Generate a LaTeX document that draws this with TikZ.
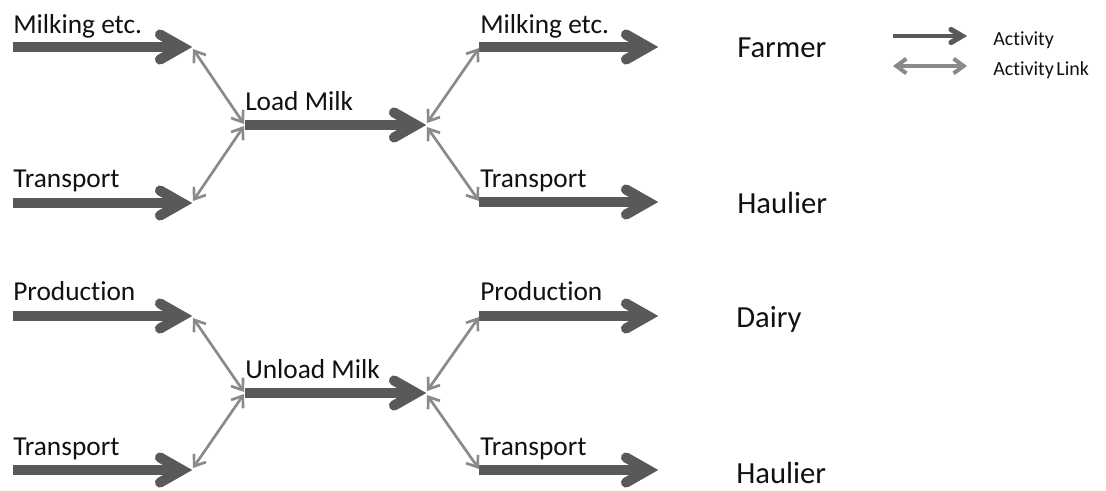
\documentclass[tikz,border=0pt]{standalone}
\usepackage{fontspec}
\setmainfont[Ligatures={NoCommon}]{Carlito}
\usetikzlibrary{arrows.meta,calc}
\definecolor{actgray}{HTML}{595959}
\definecolor{linkgray}{HTML}{8A8A8A}
\definecolor{txt}{HTML}{111111}
\tikzset{
  actline/.style={draw=actgray, line width=6.9pt, line cap=butt},
  acthead/.style={draw=actgray, line width=7.6pt, line cap=round, line join=miter},
  legline/.style={draw=actgray, line width=3.4pt, line cap=butt},
  leghead/.style={draw=actgray, line width=3.9pt, line cap=round, line join=miter},
  linkarrow/.style={draw=linkgray, line width=2pt,
    {Straight Barb[length=7.5pt,width=11pt]}-{Straight Barb[length=7.5pt,width=11pt]}},
  leglink/.style={draw=linkgray, line width=3pt,
    {Straight Barb[length=7.5pt,width=11pt]}-{Straight Barb[length=7.5pt,width=11pt]}},
  lbl/.style={anchor=base west, inner sep=0pt, text=txt, font=\fontsize{20.5}{24}\selectfont},
  role/.style={anchor=base west, inner sep=0pt, text=txt, font=\fontsize{23}{27}\selectfont},
  leglbl/.style={anchor=base west, inner sep=0pt, text=txt, font=\fontsize{15}{18}\selectfont},
}
% activity arrow from start #1 to tip #2
\newcommand{\actarrow}[2]{%
  \draw[actline] (#1) -- ($(#2)+(-11,0)$);
  \draw[acthead] ($(#2)+(-32,-12.5)$) -- ($(#2)+(-10,0)$) -- ($(#2)+(-32,12.5)$);
}
\begin{document}
\begin{tikzpicture}[x=0.75pt,y=-0.75pt]
\useasboundingbox (0,0) rectangle (1106,490);
% ---- coordinates (start s, tip t)
\coordinate (s1) at (13,47);   \coordinate (t1) at (192,47);
\coordinate (s2) at (13,203);  \coordinate (t2) at (192,203);
\coordinate (s3) at (245,125); \coordinate (t3) at (426,125);
\coordinate (s4) at (479,47);  \coordinate (t4) at (658,47);
\coordinate (s5) at (479,202); \coordinate (t5) at (658,202);
\coordinate (s6) at (13,316);  \coordinate (t6) at (192,316);
\coordinate (s7) at (13,470);  \coordinate (t7) at (192,470);
\coordinate (s8) at (245,393); \coordinate (t8) at (426,393);
\coordinate (s9) at (479,316); \coordinate (t9) at (658,316);
\coordinate (s10) at (479,470);\coordinate (t10) at (658,470);
% ---- activities
\actarrow{s1}{t1}
\actarrow{s2}{t2}
\actarrow{s3}{t3}
\actarrow{s4}{t4}
\actarrow{s5}{t5}
\actarrow{s6}{t6}
\actarrow{s7}{t7}
\actarrow{s8}{t8}
\actarrow{s9}{t9}
\actarrow{s10}{t10}
% ---- activity links
\draw[linkarrow] ($(t1)+(1,2)$) -- ($(s3)+(-1,-1)$);
\draw[linkarrow] ($(t2)+(1,-2)$) -- ($(s3)+(-1,1)$);
\draw[linkarrow] ($(t3)+(1,-2)$) -- ($(s4)+(0,1)$);
\draw[linkarrow] ($(t3)+(1,2)$) -- ($(s5)+(0,-1)$);
\draw[linkarrow] ($(t6)+(1,2)$) -- ($(s8)+(-1,-1)$);
\draw[linkarrow] ($(t7)+(1,-2)$) -- ($(s8)+(-1,1)$);
\draw[linkarrow] ($(t8)+(1,-2)$) -- ($(s9)+(0,1)$);
\draw[linkarrow] ($(t8)+(1,2)$) -- ($(s10)+(0,-1)$);
% ---- labels
\node[lbl] (l1) at (13,33) {Milking etc.};
\node[lbl] (l2) at (13,187) {Transport};
\node[lbl] (l3) at (245,110) {Load Milk};
\node[lbl] (l4) at (480,33) {Milking etc.};
\node[lbl] (l5) at (480,187) {Transport};
\node[lbl] (l6) at (13,300) {Production};
\node[lbl] (l7) at (13,455) {Transport};
\node[lbl] (l8) at (245,378) {Unload Milk};
\node[lbl] (l9) at (480,300) {Production};
\node[lbl] (l10) at (480,455) {Transport};
\node[role] (r1) at (737,57) {Farmer};
\node[role] (r2) at (737,213) {Haulier};
\node[role] (r3) at (736,327) {Dairy};
\node[role] (r4) at (736,483) {Haulier};
% ---- legend
\coordinate (la) at (893,36);  \coordinate (lb) at (967,36);
\coordinate (lc) at (893,66);  \coordinate (ld) at (967,66);
\draw[legline] (la) -- ($(lb)+(-6,0)$);
\draw[leghead] ($(lb)+(-16,-6.5)$) -- ($(lb)+(-5,0)$) -- ($(lb)+(-16,6.5)$);
\draw[leglink] (lc) -- (ld);
\node[leglbl] (g1) at (993,45) {Activity};
\node[leglbl] (g2) at (993,75) {Activity\hspace{0.12em}Link};
\end{tikzpicture}
\end{document}
